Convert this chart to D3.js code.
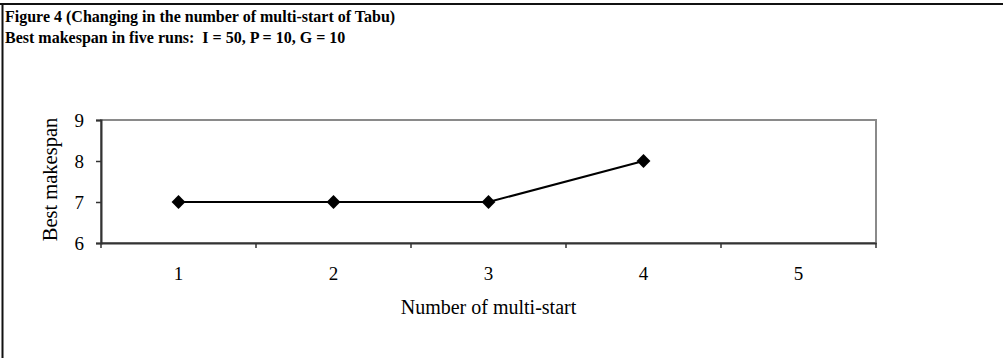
<!DOCTYPE html>
<html>
<head>
<meta charset="utf-8">
<script src="https://cdn.jsdelivr.net/npm/d3@7"></script>
<style>
  html, body { margin: 0; padding: 0; background: #fff; }
  svg { display: block; }
  text { font-family: 'Liberation Serif', 'Times New Roman', serif; }
</style>
</head>
<body>
<svg id="chart" width="1003" height="358"></svg>
<script>
// Series: best makespan found for each number of multi-starts
const categories = [1, 2, 3, 4, 5];
const runs = [1, 2, 3, 4];
const bestMakespan = [7, 7, 7, 8];
const yTicks = [6, 7, 8, 9];
const titleLines = [
  "Figure 4 (Changing in the number of multi-start of Tabu)",
  "Best makespan in five runs:  I = 50, P = 10, G = 10"
];

const svg = d3.select("#chart");
const serif = "'Liberation Serif', 'Times New Roman', serif";

// outer frame (top and left rules)
svg.append("line").attr("x1", 0).attr("x2", 1003).attr("y1", 4).attr("y2", 4)
  .attr("stroke", "#111").attr("stroke-width", 2);
svg.append("line").attr("x1", 2.5).attr("x2", 2.5).attr("y1", 3).attr("y2", 358)
  .attr("stroke", "#111").attr("stroke-width", 2);

// title
svg.selectAll("text.title").data(titleLines).join("text")
  .attr("class", "title")
  .attr("x", 5)
  .attr("y", (d, i) => 22 + i * 21)
  .style("font-family", serif)
  .style("font-weight", "bold")
  .style("font-size", "16px")
  .style("white-space", "pre")
  .text(d => d);

const plot = { left: 101, right: 876, top: 120, bottom: 243 };

const x = d3.scaleBand().domain(categories).range([plot.left, plot.right]);
const y = d3.scaleLinear().domain([6, 9]).range([plot.bottom, plot.top]);

// plot area frame
svg.append("rect")
  .attr("x", plot.left).attr("y", plot.top)
  .attr("width", plot.right - plot.left).attr("height", plot.bottom - plot.top)
  .attr("fill", "none").attr("stroke", "#8a8a8a").attr("stroke-width", 2);

// y axis
const yAxis = svg.append("g")
  .attr("transform", `translate(${plot.left},0)`)
  .call(d3.axisLeft(y).tickValues(yTicks).tickSize(5).tickPadding(12).tickFormat(d3.format("d")));
yAxis.select(".domain").attr("stroke", "#333").attr("stroke-width", 2);
yAxis.selectAll(".tick line").attr("stroke", "#333").attr("stroke-width", 1.5);
yAxis.selectAll(".tick text")
  .style("font-family", serif).style("font-size", "19px").attr("fill", "#000");

// x axis with ticks on category boundaries
const xAxis = svg.append("g")
  .attr("transform", `translate(0,${plot.bottom})`)
  .call(d3.axisBottom(x).tickSize(0).tickPadding(24));
xAxis.select(".domain").attr("stroke", "#333").attr("stroke-width", 2);
xAxis.selectAll(".tick text")
  .style("font-family", serif).style("font-size", "19px").attr("fill", "#000");
const bounds = categories.map(c => x(c)).concat([x(categories[categories.length - 1]) + x.bandwidth()]);
xAxis.selectAll("line.bound").data(bounds).join("line")
  .attr("class", "bound")
  .attr("x1", d => d).attr("x2", d => d)
  .attr("y1", 0).attr("y2", 5)
  .attr("stroke", "#333").attr("stroke-width", 1.5);

// line and diamond markers
const cx = d => x(d) + x.bandwidth() / 2;
const pts = runs.map((r, i) => [cx(r), y(bestMakespan[i])]);
svg.append("path")
  .attr("d", d3.line()(pts))
  .attr("fill", "none").attr("stroke", "#000").attr("stroke-width", 2);
svg.selectAll("path.marker").data(pts).join("path")
  .attr("class", "marker")
  .attr("transform", d => `translate(${d[0]},${d[1]}) rotate(45)`)
  .attr("d", d3.symbol().type(d3.symbolSquare).size(96))
  .attr("fill", "#000");

// axis titles
svg.append("text")
  .attr("x", (plot.left + plot.right) / 2).attr("y", 314)
  .attr("text-anchor", "middle")
  .style("font-family", serif).style("font-size", "20px")
  .text("Number of multi-start");
svg.append("text")
  .attr("transform", `translate(57,${(plot.top + plot.bottom) / 2 - 2}) rotate(-90)`)
  .attr("text-anchor", "middle")
  .style("font-family", serif).style("font-size", "20.5px")
  .text("Best makespan");
</script>
</body>
</html>
